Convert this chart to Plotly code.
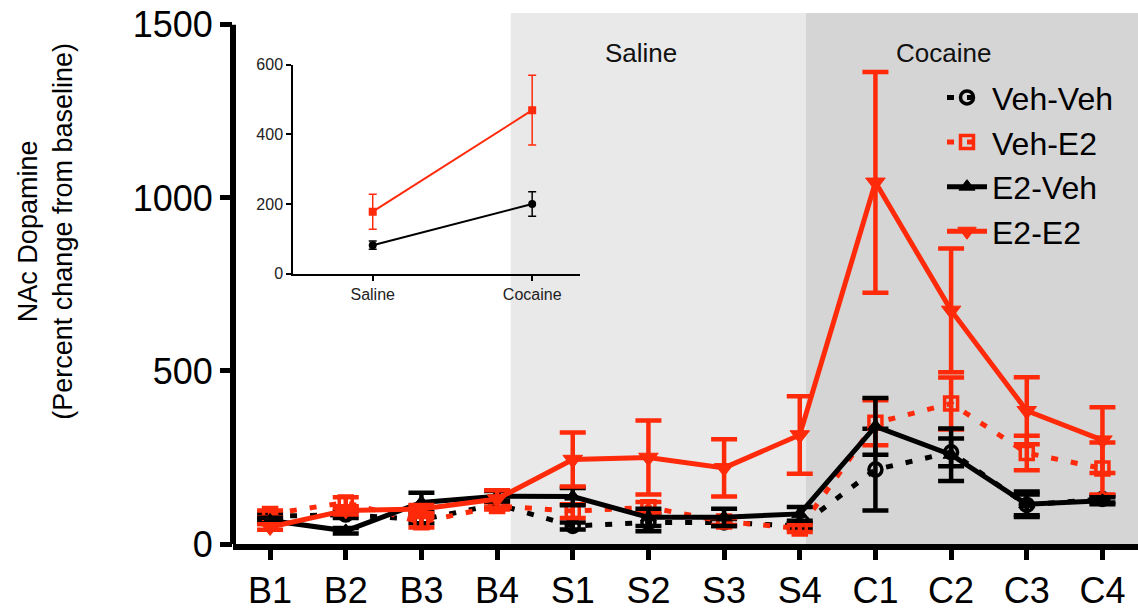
import plotly.graph_objects as go

# ---------------- data ----------------
categories = ["B1", "B2", "B3", "B4", "S1", "S2", "S3", "S4", "C1", "C2", "C3", "C4"]

veh_veh = [80, 85, 70, 115, 52, 62, 62, 52, 215, 265, 113, 130]
veh_veh_err = [8, 10, 10, 10, 10, 25, 10, 8, 118, 40, 30, 10]

veh_e2 = [87, 120, 63, 110, 95, 106, 65, 45, 350, 406, 263, 218]
veh_e2_err = [10, 15, 15, 10, 20, 15, 10, 10, 65, 75, 50, 75]

e2_veh = [68, 38, 120, 138, 137, 77, 77, 87, 340, 258, 115, 125]
e2_veh_err = [8, 8, 28, 15, 25, 25, 25, 20, 82, 76, 37, 10]

e2_e2 = [49, 97, 101, 130, 244, 250, 220, 315, 1045, 675, 385, 300]
e2_e2_err = [8, 12, 12, 25, 78, 107, 83, 112, 319, 179, 97, 95]

y_ticks = [0, 500, 1000, 1500]

inset_categories = ["Saline", "Cocaine"]
inset_e2 = [178, 469]
inset_e2_err = [50, 100]
inset_veh = [82, 200]
inset_veh_err = [12, 35]
inset_ticks = [0, 200, 400, 600]

RED = "#ff2a0a"
BLACK = "#000000"
FONT = "Liberation Sans, Arial, sans-serif"

fig = go.Figure()

def add_series(name, y, err, color, dash, symbol, msize, mline):
    fig.add_trace(go.Scatter(
        x=categories, y=y, name=name, mode="lines+markers",
        line=dict(color=color, width=5, dash=dash),
        marker=dict(symbol=symbol, size=msize, color=color,
                    line=dict(color=color, width=mline)),
        error_y=dict(type="data", array=err, visible=True, color=color,
                     thickness=4.5, width=13),
        xaxis="x", yaxis="y",
    ))

add_series("Veh-Veh", veh_veh, veh_veh_err, BLACK, "7px,13px", "circle-open", 13, 3.5)
add_series("Veh-E2", veh_e2, veh_e2_err, RED, "7px,13px", "square-open", 13, 3.5)
add_series("E2-Veh", e2_veh, e2_veh_err, BLACK, "solid", "triangle-up", 14, 1)
add_series("E2-E2", e2_e2, e2_e2_err, RED, "solid", "triangle-down", 17, 1)

# inset
fig.add_trace(go.Scatter(
    x=inset_categories, y=inset_e2, mode="lines+markers", showlegend=False,
    line=dict(color=RED, width=2), marker=dict(symbol="square", size=8, color=RED),
    error_y=dict(type="data", array=inset_e2_err, color=RED, thickness=1.5, width=4),
    xaxis="x2", yaxis="y2"))
fig.add_trace(go.Scatter(
    x=inset_categories, y=inset_veh, mode="lines+markers", showlegend=False,
    line=dict(color=BLACK, width=2), marker=dict(symbol="circle", size=8, color=BLACK),
    error_y=dict(type="data", array=inset_veh_err, color=BLACK, thickness=1.5, width=4),
    xaxis="x2", yaxis="y2"))

W, H = 1138, 611
L, R, T, B = 233, 0, 13, 59
PW, PH = W - L - R, H - T - B

def px_x(p):
    return (p - L) / PW

def px_y(p):
    return (H - B - p) / PH

ytop = (H - B - T) / 0.3513

fig.update_layout(
    width=W, height=H,
    margin=dict(l=L, r=R, t=T, b=B),
    paper_bgcolor="white", plot_bgcolor="rgba(0,0,0,0)",
    font=dict(family=FONT, color="black"),
    showlegend=True,
    legend=dict(x=px_x(942), y=px_y(71), xanchor="left", yanchor="top",
                font=dict(size=32, family=FONT, color="black"),
                bgcolor="rgba(0,0,0,0)", itemwidth=40, tracegroupgap=0),
    xaxis=dict(domain=[0, 1], range=[-0.49, 11.47], type="category",
               showline=True, linewidth=6, linecolor="black",
               ticks="outside", ticklen=10, tickwidth=5, tickcolor="black",
               tickfont=dict(size=36, family=FONT, color="black"),
               showgrid=False, zeroline=False, fixedrange=True),
    yaxis=dict(domain=[0, 1], range=[0, ytop], tickvals=y_ticks,
               showline=False, ticks="outside", ticklen=12, tickwidth=5,
               tickcolor="black", tickfont=dict(size=36, family=FONT, color="black"),
               showgrid=False, zeroline=False, fixedrange=True),
    xaxis2=dict(domain=[px_x(293), px_x(580)], anchor="y2", range=[-0.5, 1.3],
                type="category", showline=True, linewidth=1.5, linecolor="black",
                ticks="outside", ticklen=5, tickwidth=1.5, tickcolor="black",
                tickfont=dict(size=16, family=FONT, color="#222"),
                showgrid=False, zeroline=False),
    yaxis2=dict(domain=[px_y(277.7), px_y(65.3)], anchor="x2", range=[0, 600],
                tickvals=inset_ticks, showline=True, linewidth=1.5, linecolor="black",
                ticks="outside", ticklen=5, tickwidth=1.5, tickcolor="black",
                tickfont=dict(size=16, family=FONT, color="#222"),
                showgrid=False, zeroline=False),
    shapes=[
        dict(type="rect", xref="x", yref="paper", x0=3.18, x1=7.08, y0=0, y1=1,
             fillcolor="#e9e9e9", line=dict(width=0), layer="below"),
        dict(type="rect", xref="x", yref="paper", x0=7.08, x1=11.6, y0=0, y1=1,
             fillcolor="#d5d5d5", line=dict(width=0), layer="below"),
        dict(type="line", xref="paper", yref="y", x0=0, x1=0, y0=0, y1=1500,
             line=dict(color="black", width=6)),
    ],
    annotations=[
        dict(text="Saline", xref="x", yref="paper", x=4.9, y=px_y(36),
             showarrow=False, font=dict(size=26, family=FONT, color="#111")),
        dict(text="Cocaine", xref="x", yref="paper", x=8.9, y=px_y(36),
             showarrow=False, font=dict(size=26, family=FONT, color="#111")),
        dict(text="NAc Dopamine<br>(Percent change from baseline)",
             xref="paper", yref="paper", x=px_x(46), y=px_y(235),
             xanchor="center", yanchor="middle",
             textangle=-90, showarrow=False,
             font=dict(size=27, family=FONT, color="black")),
    ],
)

fig.write_html("out.html")
